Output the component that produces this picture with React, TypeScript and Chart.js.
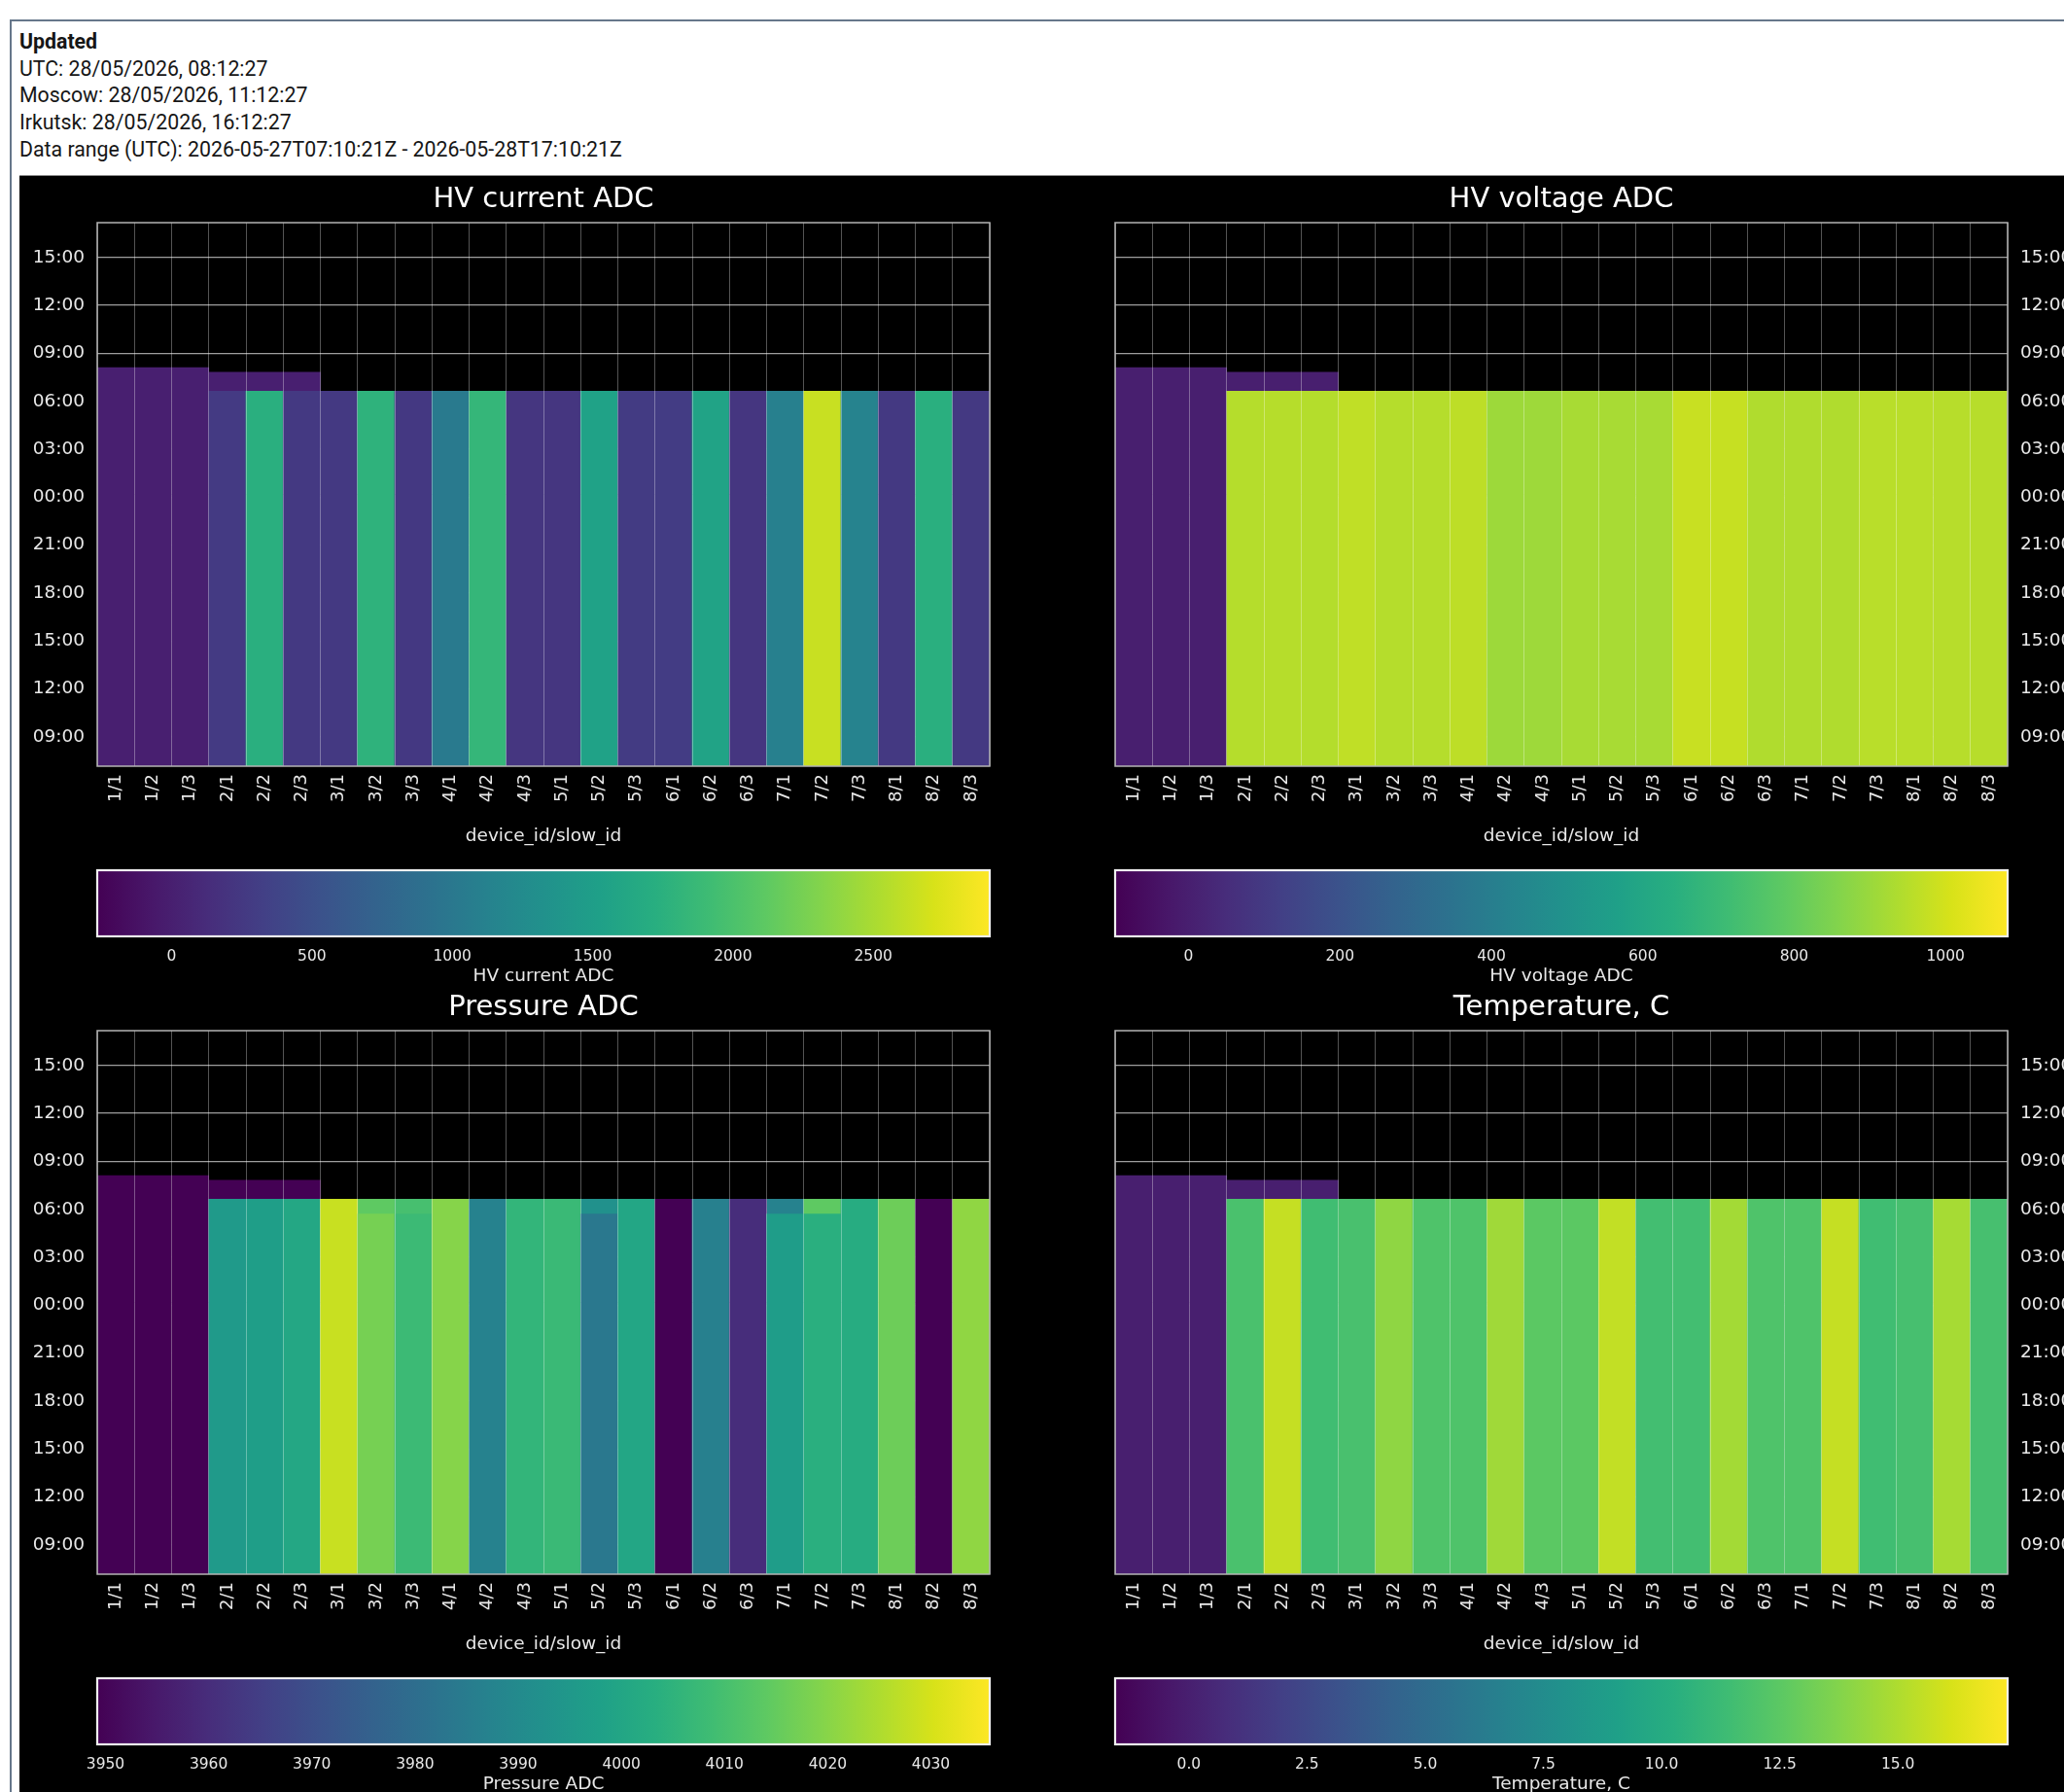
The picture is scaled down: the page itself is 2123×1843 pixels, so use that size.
import React, { useEffect, useRef } from 'react';
import { Chart, registerables } from 'chart.js';

Chart.register(...registerables);

// ---------------- data ----------------
const COLUMNS = [
  '1/1', '1/2', '1/3', '2/1', '2/2', '2/3', '3/1', '3/2', '3/3', '4/1', '4/2', '4/3',
  '5/1', '5/2', '5/3', '6/1', '6/2', '6/3', '7/1', '7/2', '7/3', '8/1', '8/2', '8/3',
];

// time in hours since 2026-05-27 00:00 UTC
const DATA_START = 7.1725; // 2026-05-27T07:10:21Z
const DATA_END = 41.1725; // 2026-05-28T17:10:21Z
const TIME_TICKS = [9, 12, 15, 18, 21, 24, 27, 30, 33, 36, 39];

// end of the main record of each column
const MAIN_END = [
  32.11, 32.11, 32.11, 30.63, 30.63, 30.63, 30.63, 30.63, 30.63, 30.63, 30.63, 30.63,
  30.63, 30.63, 30.63, 30.63, 30.63, 30.63, 30.63, 30.63, 30.63, 30.63, 30.63, 30.63,
];
// late "switched off" record (value 0) of devices 2/x
const OFF_TO = [
  null, null, null, 31.81, 31.81, 31.81, null, null, null, null, null, null,
  null, null, null, null, null, null, null, null, null, null, null, null,
];
const OFF_VALUE = 0;

const HV_CURRENT = [
  0, 0, 0, 270, 1740, 260, 255, 1786, 250, 1023, 1834, 228,
  228, 1548, 276, 292, 1564, 228, 1102, 2641, 1134, 260, 1738, 260,
];
const HV_VOLTAGE = [
  0, 0, 0, 949, 950, 946, 968, 949, 949, 962, 906, 908,
  925, 925, 925, 981, 978, 940, 940, 940, 955, 955, 952, 952,
];
const PRESSURE = [
  0, 0, 0, 3995.7, 3997.2, 4000.7, 4028.3, 4017.5, 4008, 4019.7, 3987, 4005.9,
  4007.6, 3983.8, 4000.2, 0, 3986.4, 3960, 3996.8, 4003.7, 4002.4, 4016.2, 0, 4021,
];
// most recent pressure readings (last ~hour) where they differ
const PRESSURE_RECENT_FROM = 29.7;
const PRESSURE_RECENT = [
  null, null, null, null, null, null, null, 4014, 4010, null, null, null,
  null, 3992.5, null, null, null, null, 3987, 4014, null, null, null, null,
];
const TEMPERATURE = [
  0, 0, 0, 11.84, 15.62, 11.47, 11.79, 14.11, 12.03, 12.03, 14.58, 12.5,
  12.5, 15.53, 11.56, 11.56, 14.68, 12.03, 12.03, 15.62, 11.47, 11.72, 14.77, 11.72,
];

const HV_CURRENT_RANGE = [-265, 2915];
const HV_VOLTAGE_RANGE = [-97, 1082];
const PRESSURE_RANGE = [3949.2, 4035.7];
const TEMPERATURE_RANGE = [-1.56, 17.32];

const HV_CURRENT_TICKS = [0, 500, 1000, 1500, 2000, 2500];
const HV_VOLTAGE_TICKS = [0, 200, 400, 600, 800, 1000];
const PRESSURE_TICKS = [3950, 3960, 3970, 3980, 3990, 4000, 4010, 4020, 4030];
const TEMPERATURE_TICKS = [0, 2.5, 5, 7.5, 10, 12.5, 15];

const HEADER_LINES = [
  'UTC: 28/05/2026, 08:12:27',
  'Moscow: 28/05/2026, 11:12:27',
  'Irkutsk: 28/05/2026, 16:12:27',
  'Data range (UTC): 2026-05-27T07:10:21Z - 2026-05-28T17:10:21Z',
];

// ---------------- colormap ----------------
const VIRIDIS = [
  '#440154', '#48186a', '#472d7b', '#424086', '#3b528b', '#33638d', '#2c728e', '#26828e',
  '#21918c', '#1fa088', '#28ae80', '#3fbc73', '#5ec962', '#84d44b', '#addc30', '#d8e219', '#fde725',
];
const hexRgb = (h: string) => [1, 3, 5].map((k) => parseInt(h.slice(k, k + 2), 16));
function viridis(t: number): string {
  const c = Math.max(0, Math.min(1, t));
  const p = c * (VIRIDIS.length - 1);
  const i = Math.min(VIRIDIS.length - 2, Math.floor(p));
  const f = p - i;
  const a = hexRgb(VIRIDIS[i]);
  const b = hexRgb(VIRIDIS[i + 1]);
  const m = a.map((v, k) => Math.round(v + (b[k] - v) * f));
  return `rgb(${m[0]},${m[1]},${m[2]})`;
}

// ---------------- styling ----------------
const FONT = '"DejaVu Sans", Verdana, sans-serif';
const TEXT = '#e8e8e8';
const PLOT_W = 918;
const PLOT_H = 559;
const AXIS_W = 81;
const TITLE_H = 49;
const XAXIS_H = 83;

const framePlugin = (color: string, width: number) => ({
  id: 'frame',
  afterDraw(chart: any) {
    const { ctx, chartArea: a } = chart;
    ctx.save();
    ctx.strokeStyle = color;
    ctx.lineWidth = width;
    ctx.strokeRect(a.left, a.top, a.right - a.left, a.bottom - a.top);
    ctx.restore();
  },
});

type PanelDef = {
  title: string;
  values: number[];
  range: number[];
  ticks: number[];
  fmt: (v: number) => string;
  side: 'left' | 'right';
  plotLeft: number;
  plotTop: number;
  recent?: (number | null)[];
  recentFrom?: number;
};

const PANELS: PanelDef[] = [
  { title: 'HV current ADC', values: HV_CURRENT, range: HV_CURRENT_RANGE, ticks: HV_CURRENT_TICKS, fmt: (v) => String(v), side: 'left', plotLeft: 100, plotTop: 229 },
  { title: 'HV voltage ADC', values: HV_VOLTAGE, range: HV_VOLTAGE_RANGE, ticks: HV_VOLTAGE_TICKS, fmt: (v) => String(v), side: 'right', plotLeft: 1147, plotTop: 229 },
  { title: 'Pressure ADC', values: PRESSURE, range: PRESSURE_RANGE, ticks: PRESSURE_TICKS, fmt: (v) => String(v), side: 'left', plotLeft: 100, plotTop: 1060, recent: PRESSURE_RECENT, recentFrom: PRESSURE_RECENT_FROM },
  { title: 'Temperature, C', values: TEMPERATURE, range: TEMPERATURE_RANGE, ticks: TEMPERATURE_TICKS, fmt: (v) => v.toFixed(1), side: 'right', plotLeft: 1147, plotTop: 1060 },
];

const hhmm = (v: number) => String(((v % 24) + 24) % 24).padStart(2, '0') + ':00';

function heatmapConfig(p: PanelDef): any {
  const [vmin, vmax] = p.range;
  const col = (v: number) => viridis((v - vmin) / (vmax - vmin));
  const recent = p.recent;
  const mainEnd = MAIN_END.map((e, i) => (recent && recent[i] != null ? (p.recentFrom as number) : e));
  const common = { barPercentage: 1, categoryPercentage: 1, grouped: false, borderWidth: 0, borderSkipped: false };
  const datasets: any[] = [
    { ...common, data: COLUMNS.map((_, i) => [DATA_START, mainEnd[i]]), backgroundColor: p.values.map(col) },
    { ...common, data: OFF_TO.map((to, i) => (to == null ? null : [MAIN_END[i], to])), backgroundColor: col(OFF_VALUE) },
  ];
  if (recent) {
    datasets.push({
      ...common,
      data: recent.map((v, i) => (v == null ? null : [p.recentFrom, MAIN_END[i]])),
      backgroundColor: recent.map((v) => (v == null ? 'rgba(0,0,0,0)' : col(v))),
    });
  }
  return {
    type: 'bar',
    data: { labels: COLUMNS, datasets },
    options: {
      animation: false,
      responsive: false,
      maintainAspectRatio: false,
      layout: {
        padding: p.side === 'left' ? { left: 0, right: AXIS_W, top: 0, bottom: 0 } : { left: AXIS_W, right: 0, top: 0, bottom: 0 },
      },
      plugins: {
        legend: { display: false },
        tooltip: { enabled: false },
        title: {
          display: true,
          text: p.title,
          color: '#ffffff',
          fullSize: false,
          font: { family: FONT, size: 29, weight: 'normal', lineHeight: 1.2 },
          padding: { top: 8.4, bottom: 5.8 },
        },
      },
      scales: {
        x: {
          type: 'category',
          offset: true,
          grid: { offset: true, color: 'rgba(255,255,255,0.33)', lineWidth: 1, drawTicks: false, z: 1 },
          border: { display: false },
          ticks: { color: TEXT, font: { family: FONT, size: 18 }, minRotation: 90, maxRotation: 90, autoSkip: false, padding: 8 },
          title: { display: true, text: 'device_id/slow_id', color: TEXT, font: { family: FONT, size: 18.5, lineHeight: 1.2 }, padding: { top: 0, bottom: 0 } },
          afterFit: (s: any) => { s.height = XAXIS_H; },
        },
        y: {
          type: 'linear',
          position: p.side,
          min: DATA_START,
          max: DATA_END,
          grid: { color: '#9e9e9e', lineWidth: 1.2, drawTicks: false },
          border: { display: false },
          ticks: { color: TEXT, font: { family: FONT, size: 18.5 }, padding: 13, callback: (v: number) => hhmm(v) },
          afterBuildTicks: (s: any) => { s.ticks = TIME_TICKS.map((v) => ({ value: v })); },
          afterFit: (s: any) => { s.width = AXIS_W; },
        },
      },
    },
    plugins: [framePlugin('#b4b4b4', 1.5)],
  };
}

function colorbarConfig(p: PanelDef): any {
  const [vmin, vmax] = p.range;
  return {
    type: 'bar',
    data: {
      labels: [p.title],
      datasets: [{
        data: [[vmin, vmax]],
        barPercentage: 1,
        categoryPercentage: 1,
        borderWidth: 0,
        borderSkipped: false,
        backgroundColor: (ctx: any) => {
          const a = ctx.chart.chartArea;
          if (!a) return VIRIDIS[8];
          const g = ctx.chart.ctx.createLinearGradient(a.left, 0, a.right, 0);
          VIRIDIS.forEach((c, i) => g.addColorStop(i / (VIRIDIS.length - 1), c));
          return g;
        },
      }],
    },
    options: {
      indexAxis: 'y',
      animation: false,
      responsive: false,
      maintainAspectRatio: false,
      layout: { padding: { left: AXIS_W, right: AXIS_W, top: 6, bottom: 0 } },
      plugins: { legend: { display: false }, tooltip: { enabled: false } },
      scales: {
        y: { display: false },
        x: {
          type: 'linear',
          min: vmin,
          max: vmax,
          grid: { display: false, drawTicks: false },
          border: { display: false },
          ticks: { color: TEXT, font: { family: FONT, size: 15.5 }, padding: 12, callback: (v: number) => p.fmt(v) },
          afterBuildTicks: (s: any) => { s.ticks = p.ticks.map((v) => ({ value: v })); },
          title: { display: true, text: p.title, color: TEXT, font: { family: FONT, size: 18.5, lineHeight: 1.2 }, padding: { top: 0, bottom: 4 } },
          afterFit: (s: any) => { s.height = 56; },
        },
      },
    },
    plugins: [framePlugin('#f0f0f0', 2.2)],
  };
}

export default function App() {
  const heatRefs = useRef<(HTMLCanvasElement | null)[]>([]);
  const barRefs = useRef<(HTMLCanvasElement | null)[]>([]);

  useEffect(() => {
    document.body.style.margin = '0';
    const charts: Chart[] = [];
    PANELS.forEach((p, i) => {
      const hc = heatRefs.current[i];
      const bc = barRefs.current[i];
      if (hc) charts.push(new Chart(hc, heatmapConfig(p)));
      if (bc) charts.push(new Chart(bc, colorbarConfig(p)));
    });
    return () => charts.forEach((c) => c.destroy());
  }, []);

  const canvasW = AXIS_W + PLOT_W + AXIS_W;
  const heatH = TITLE_H + PLOT_H + XAXIS_H;
  const barH = 130;

  return (
    <div style={{ position: 'absolute', left: 0, top: 0, width: 2123, height: 1843, overflow: 'hidden', background: '#ffffff' }}>
      <div style={{ position: 'absolute', left: 10, top: 20, width: 2200, height: 1900, borderLeft: '2px solid #66778b', borderTop: '2px solid #66778b' }} />
      <div style={{ position: 'absolute', left: 20, top: 29, fontFamily: 'Roboto, "Noto Sans", sans-serif', fontSize: 21.3, lineHeight: '27.7px', color: '#161616', whiteSpace: 'nowrap' }}>
        <div style={{ fontWeight: 700 }}>Updated</div>
        {HEADER_LINES.map((t) => (<div key={t}>{t}</div>))}
      </div>
      <div style={{ position: 'absolute', left: 20, top: 180, width: 2200, height: 1700, background: '#000000', borderTop: '1px solid #8c8c8c' }} />
      {PANELS.map((p, i) => (
        <React.Fragment key={p.title}>
          <canvas
            ref={(el) => { heatRefs.current[i] = el; }}
            width={canvasW}
            height={heatH}
            style={{ position: 'absolute', left: p.plotLeft - AXIS_W, top: p.plotTop - TITLE_H, width: canvasW, height: heatH }}
          />
          <canvas
            ref={(el) => { barRefs.current[i] = el; }}
            width={canvasW}
            height={barH}
            style={{ position: 'absolute', left: p.plotLeft - AXIS_W, top: p.plotTop + PLOT_H + 101, width: canvasW, height: barH }}
          />
        </React.Fragment>
      ))}
    </div>
  );
}
